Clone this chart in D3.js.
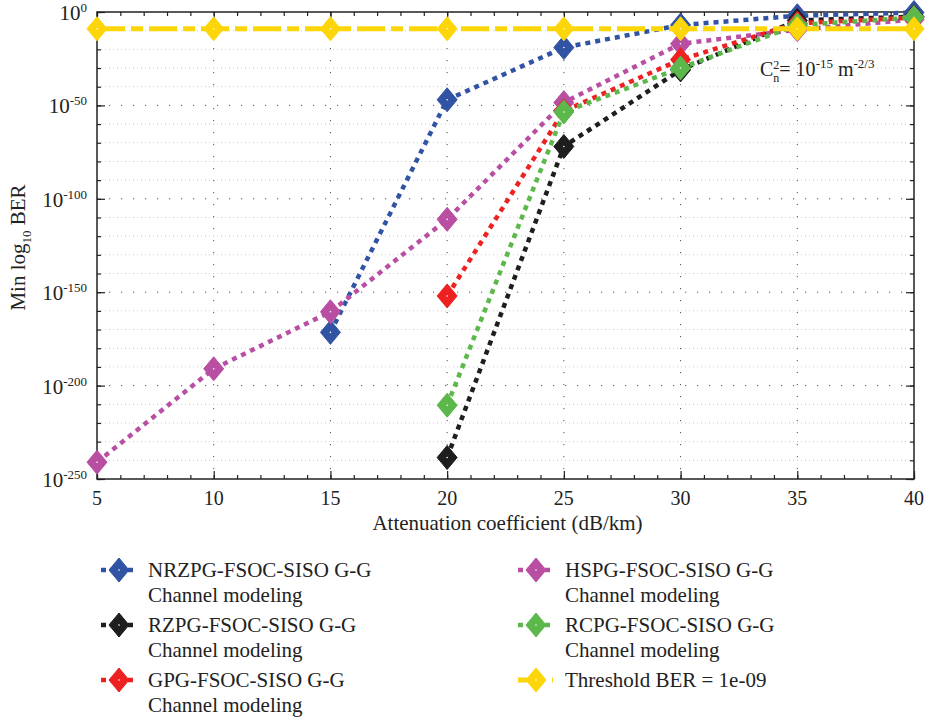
<!DOCTYPE html>
<html>
<head>
<meta charset="utf-8">
<script src="https://cdn.jsdelivr.net/npm/d3@7"></script>
<style>
  html, body { margin: 0; padding: 0; background: #fff; }
  svg { display: block; }
</style>
</head>
<body>
<svg id="chart" width="929" height="720" font-family="'Liberation Serif', 'Times New Roman', Times, serif"></svg>
<script>
// Attenuation coefficient (dB/km) on the x axis
const attenuation = [5, 10, 15, 20, 25, 30, 35, 40];

// log10 of the minimum BER for each scheme (null = not computed)
const nrzpgLog = [null, null, -171.5, -47, -19, -7, -2, -0.3];
const hspgLog  = [-241, -191, -160.5, -111, -48.5, -17, -9.5, -4];
const rzpgLog  = [null, null, null, -238.5, -72, -31, -4.5, -2.5];
const gpgLog   = [null, null, null, -152, -53, -25.5, -6, -3];
const rcpgLog  = [null, null, null, -210.5, -53.5, -30, -7, -3];
const thresholdLog = [-9, -9, -9, -9, -9, -9, -9, -9];

const xTicks = [5, 10, 15, 20, 25, 30, 35, 40];
const yTickExps = [0, -50, -100, -150, -200, -250];

const seriesNames = [
  ["NRZPG-FSOC-SISO G-G", "Channel modeling"],
  ["HSPG-FSOC-SISO G-G", "Channel modeling"],
  ["RZPG-FSOC-SISO G-G", "Channel modeling"],
  ["RCPG-FSOC-SISO G-G", "Channel modeling"],
  ["GPG-FSOC-SISO G-G", "Channel modeling"],
  ["Threshold BER = 1e-09"]
];

const series = [
  { name: seriesNames[0], values: nrzpgLog, color: "#3153a4", dash: "5 5", col: 0, row: 0 },
  { name: seriesNames[1], values: hspgLog, color: "#b94fa3", dash: "5 5", col: 1, row: 0 },
  { name: seriesNames[2], values: rzpgLog, color: "#1e1e1e", dash: "5 5", col: 0, row: 1 },
  { name: seriesNames[4], values: gpgLog, color: "#ee2020", dash: "5 5", col: 0, row: 2 },
  { name: seriesNames[3], values: rcpgLog, color: "#5db84b", dash: "5 5", col: 1, row: 1 },
  { name: seriesNames[5], values: thresholdLog, color: "#fdd60a", dash: "28 6 12 6", col: 1, row: 2, threshold: true }
];

const svg = d3.select("#chart");
const plotL = 97, plotR = 914, plotT = 12, plotB = 479;
const ink = "#222";

const x = d3.scaleLinear().domain([5, 40]).range([plotL, plotR]);
const y = d3.scaleLog().domain([1e-250, 1]).range([plotB, plotT]);
const pow = e => Math.pow(10, e);

// grid: minor lines every 10 decades, major every 50
const grid = svg.append("g");
d3.range(-240, 0, 10).filter(e => e % 50 !== 0).forEach(e => {
  grid.append("line")
    .attr("x1", plotL).attr("x2", plotR)
    .attr("y1", y(pow(e))).attr("y2", y(pow(e)))
    .attr("stroke", "#c8c8c8").attr("stroke-width", 1)
    .attr("stroke-dasharray", "1 3");
});
yTickExps.filter(e => e !== 0 && e !== -250).forEach(e => {
  grid.append("line")
    .attr("x1", plotL).attr("x2", plotR)
    .attr("y1", y(pow(e))).attr("y2", y(pow(e)))
    .attr("stroke", "#555").attr("stroke-width", 1)
    .attr("stroke-dasharray", "1.2 10.8");
});
xTicks.slice(1, -1).forEach(t => {
  grid.append("line")
    .attr("x1", x(t)).attr("x2", x(t))
    .attr("y1", plotT).attr("y2", plotB)
    .attr("stroke", "#555").attr("stroke-width", 1)
    .attr("stroke-dasharray", "1.2 10.8");
});

// axes box with inward ticks
const axes = svg.append("g");
const xMinor = d3.range(5, 41, 1);
axes.append("g").attr("transform", `translate(0,${plotB})`)
  .call(d3.axisBottom(x).tickValues(xMinor).tickSize(-4).tickFormat(""))
  .call(g => g.select(".domain").remove());
axes.append("g").attr("transform", `translate(0,${plotT})`)
  .call(d3.axisTop(x).tickValues(xMinor).tickSize(-4).tickFormat(""))
  .call(g => g.select(".domain").remove());
axes.append("g").attr("transform", `translate(0,${plotB})`)
  .call(d3.axisBottom(x).tickValues(xTicks).tickSize(-8).tickFormat(""))
  .call(g => g.select(".domain").remove());
axes.append("g").attr("transform", `translate(0,${plotT})`)
  .call(d3.axisTop(x).tickValues(xTicks).tickSize(-8).tickFormat(""))
  .call(g => g.select(".domain").remove());

const yMinorVals = d3.range(-250, 1, 10).map(pow);
const yMajorVals = yTickExps.map(pow);
axes.append("g").attr("transform", `translate(${plotL},0)`)
  .call(d3.axisLeft(y).tickValues(yMinorVals).tickSize(-4).tickFormat(""))
  .call(g => g.select(".domain").remove());
axes.append("g").attr("transform", `translate(${plotR},0)`)
  .call(d3.axisRight(y).tickValues(yMinorVals).tickSize(-4).tickFormat(""))
  .call(g => g.select(".domain").remove());
axes.append("g").attr("transform", `translate(${plotL},0)`)
  .call(d3.axisLeft(y).tickValues(yMajorVals).tickSize(-8).tickFormat(""))
  .call(g => g.select(".domain").remove());
axes.append("g").attr("transform", `translate(${plotR},0)`)
  .call(d3.axisRight(y).tickValues(yMajorVals).tickSize(-8).tickFormat(""))
  .call(g => g.select(".domain").remove());
axes.selectAll(".tick line").attr("stroke", ink).attr("stroke-width", 1.2);
axes.append("rect")
  .attr("x", plotL).attr("y", plotT)
  .attr("width", plotR - plotL).attr("height", plotB - plotT)
  .attr("fill", "none").attr("stroke", ink).attr("stroke-width", 1.5);

// tick labels
xTicks.forEach(t => {
  svg.append("text").attr("x", x(t)).attr("y", 505)
    .attr("text-anchor", "middle").attr("font-size", 20).attr("fill", ink).text(t);
});
yTickExps.forEach(e => {
  const t = svg.append("text").attr("x", 87).attr("y", y(pow(e)) + 8)
    .attr("text-anchor", "end").attr("font-size", 21).attr("fill", ink);
  t.append("tspan").text("10");
  t.append("tspan").attr("dy", -8).attr("font-size", 13).text(String(e));
});

// axis titles
svg.append("text").attr("x", (plotL + plotR) / 2 + 2).attr("y", 530)
  .attr("text-anchor", "middle").attr("font-size", 21).attr("fill", ink)
  .text("Attenuation coefficient (dB/km)");
const yl = svg.append("text")
  .attr("transform", `translate(25,${(plotT + plotB) / 2 + 2}) rotate(-90)`)
  .attr("text-anchor", "middle").attr("font-size", 21).attr("fill", ink);
yl.append("tspan").text("Min log");
yl.append("tspan").attr("dy", 6).attr("font-size", 13).text("10");
yl.append("tspan").attr("dy", -6).text(" BER");

// annotation
const ann = svg.append("text").attr("x", 760).attr("y", 76).attr("font-size", 20).attr("fill", ink);
ann.append("tspan").text("C");
ann.append("tspan").attr("dy", -7).attr("font-size", 12).text("2");
ann.append("tspan").attr("dx", -6).attr("dy", 13).attr("font-size", 12).text("n");
ann.append("tspan").attr("dy", -6).text("= 10");
ann.append("tspan").attr("dy", -8).attr("font-size", 13).text("-15");
ann.append("tspan").attr("dy", 8).text(" m");
ann.append("tspan").attr("dy", -8).attr("font-size", 13).text("-2/3");

// series lines and diamond markers
const line = d3.line()
  .defined(d => d.v !== null)
  .x(d => x(d.a))
  .y(d => y(pow(d.v)));

const diamond = (g, cx, cy, color) => {
  g.append("path")
    .attr("d", `M${cx},${cy - 12}L${cx + 10},${cy}L${cx},${cy + 12}L${cx - 10},${cy}Z`)
    .attr("fill", color).attr("stroke", color).attr("stroke-width", 1);
  g.append("circle").attr("cx", cx).attr("cy", cy).attr("r", 0.8).attr("fill", "#fff");
};

const plot = svg.append("g");
series.forEach(s => {
  const pts = attenuation.map((a, i) => ({ a, v: s.values[i] }));
  plot.append("path").datum(pts)
    .attr("d", line)
    .attr("fill", "none")
    .attr("stroke", s.color)
    .attr("stroke-width", s.threshold ? 5 : 4.5)
    .attr("stroke-dasharray", s.dash);
  const mg = plot.append("g");
  pts.filter(d => d.v !== null).forEach(d => diamond(mg, x(d.a), y(pow(d.v)), s.color));
});

// legend in two columns
const legend = svg.append("g");
const colX = [101, 518];
const rowY = [570, 625, 680];
series.forEach(s => {
  const lx = colX[s.col], ly = rowY[s.row];
  legend.append("line")
    .attr("x1", lx).attr("x2", lx + 35)
    .attr("y1", ly).attr("y2", ly)
    .attr("stroke", s.color).attr("stroke-width", s.threshold ? 5 : 4.5)
    .attr("stroke-dasharray", s.threshold ? "10 4 10" : "5 4");
  diamond(legend, lx + 18, ly, s.color);
  s.name.forEach((n, k) => {
    legend.append("text").attr("x", lx + 47).attr("y", ly + 7 + k * 25)
      .attr("font-size", 21).attr("fill", ink).text(n);
  });
});
</script>
</body>
</html>
